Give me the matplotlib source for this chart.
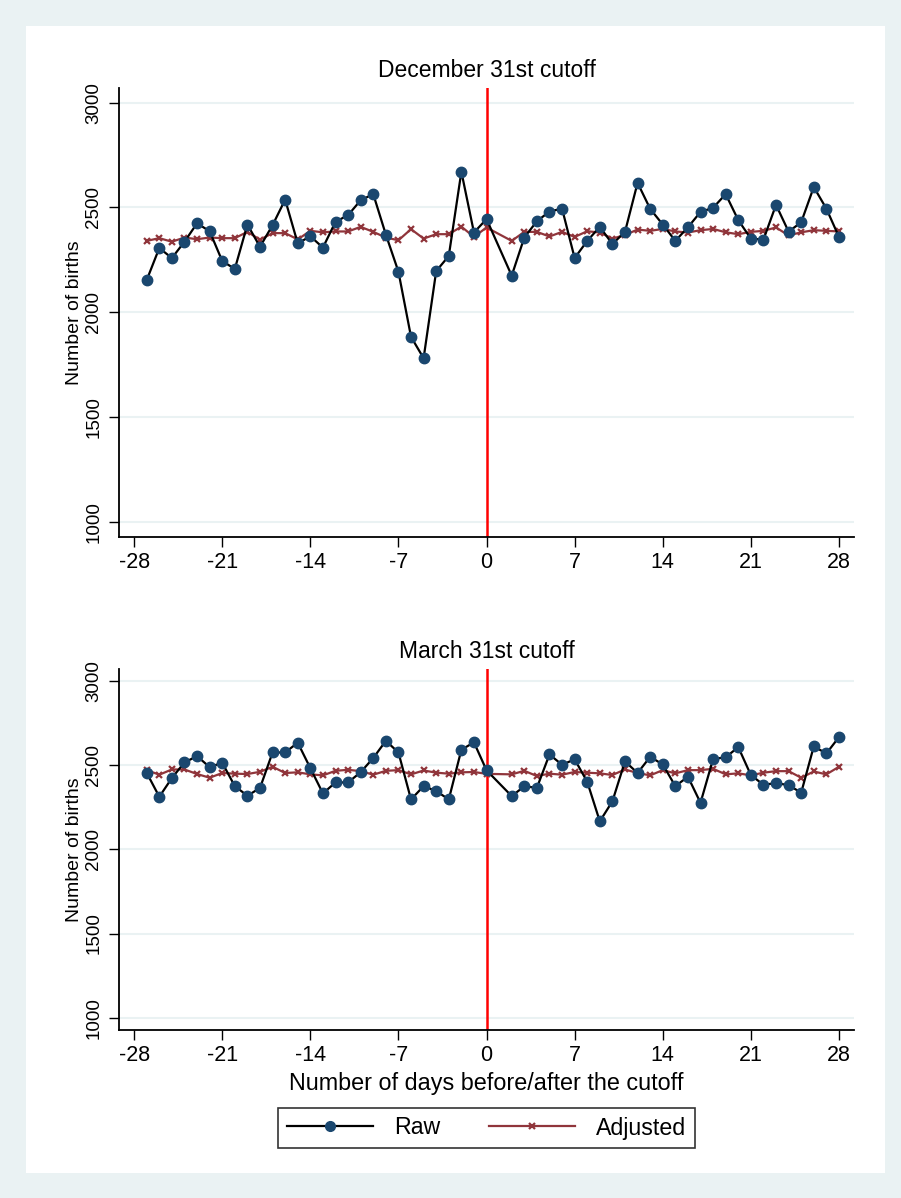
import numpy as np
import matplotlib
matplotlib.use("Agg")
import matplotlib.pyplot as plt
from matplotlib.lines import Line2D
from matplotlib.patches import Rectangle

plt.rcParams['font.family'] = ['Liberation Sans', 'DejaVu Sans']

# ------------------------------------------------------------
# data (day 1 has no observation in either panel)
# ------------------------------------------------------------
days = [-27, -26, -25, -24, -23, -22, -21, -20, -19, -18, -17, -16, -15,
        -14, -13, -12, -11, -10, -9, -8, -7, -6, -5, -4, -3, -2, -1, 0,
        2, 3, 4, 5, 6, 7, 8, 9, 10, 11, 12, 13, 14, 15,
        16, 17, 18, 19, 20, 21, 22, 23, 24, 25, 26, 27, 28]

dec_raw = [2153, 2306, 2258, 2336, 2424, 2386, 2244, 2206, 2418, 2312, 2415, 2537, 2328,
           2362, 2308, 2431, 2463, 2534, 2563, 2370, 2193, 1882, 1780, 2196, 2268, 2670, 2380, 2444,
           2174, 2356, 2434, 2480, 2494, 2258, 2340, 2407, 2325, 2383, 2617, 2493, 2418, 2340,
           2405, 2478, 2498, 2563, 2439, 2351, 2346, 2512, 2384, 2429, 2597, 2494, 2359]

dec_adj = [2340, 2353, 2336, 2356, 2348, 2356, 2353, 2353, 2383, 2346, 2377, 2377, 2347,
           2388, 2381, 2385, 2385, 2407, 2383, 2356, 2343, 2396, 2351, 2372, 2372, 2408, 2359, 2404,
           2340, 2383, 2383, 2361, 2383, 2359, 2386, 2380, 2351, 2368, 2394, 2388, 2397, 2385,
           2380, 2391, 2397, 2381, 2372, 2383, 2388, 2404, 2366, 2381, 2391, 2388, 2385]

mar_raw = [2454, 2312, 2423, 2516, 2553, 2488, 2514, 2375, 2318, 2364, 2575, 2575, 2633,
           2482, 2332, 2397, 2397, 2458, 2542, 2644, 2575, 2296, 2375, 2346, 2296, 2591, 2635, 2469,
           2316, 2374, 2365, 2563, 2502, 2534, 2401, 2166, 2285, 2522, 2453, 2549, 2504, 2375,
           2431, 2276, 2536, 2546, 2607, 2441, 2383, 2393, 2381, 2336, 2611, 2569, 2666]

mar_adj = [2470, 2443, 2474, 2474, 2447, 2425, 2453, 2449, 2447, 2460, 2490, 2453, 2457,
           2445, 2439, 2466, 2472, 2464, 2443, 2466, 2470, 2445, 2468, 2455, 2449, 2457, 2459, 2448,
           2445, 2466, 2435, 2449, 2443, 2459, 2455, 2451, 2441, 2474, 2453, 2439, 2470, 2451,
           2470, 2470, 2478, 2445, 2451, 2439, 2455, 2464, 2464, 2425, 2462, 2445, 2490]

titles = ["December 31st cutoff", "March 31st cutoff"]
xticks = [-28, -21, -14, -7, 0, 7, 14, 21, 28]
yticks = [1000, 1500, 2000, 2500, 3000]

navy = "#1a476f"
maroon = "#90353b"
grid_c = "#eaf2f3"

fig = plt.figure(figsize=(9.01, 11.98), dpi=100)
fig.patch.set_facecolor(grid_c)
fig.patches.append(Rectangle((26 / 901, 1 - 1173 / 1198), (885 - 26) / 901, (1173 - 26) / 1198,
                             transform=fig.transFigure, facecolor="white",
                             edgecolor="none", zorder=-10))

ax_top = fig.add_axes([0.1321, 0.5518, 0.8158, 0.3748])
ax_bot = fig.add_axes([0.1321, 0.1402, 0.8158, 0.3013])

panels = [(ax_top, dec_raw, dec_adj, titles[0]),
          (ax_bot, mar_raw, mar_adj, titles[1])]

for ax, raw, adj, title in panels:
    ax.set_facecolor("white")
    for y in yticks:
        ax.axhline(y, color=grid_c, linewidth=1.5, zorder=1)
    ax.axvline(0, color="red", linewidth=1.8, zorder=2)
    ax.plot(days, adj, color=maroon, linewidth=1.6, marker="x",
            markersize=4.5, markeredgewidth=1.6, zorder=3)
    ax.plot(days, raw, color="black", linewidth=1.6, marker="o",
            markersize=7.5, markerfacecolor=navy, markeredgecolor=navy,
            zorder=4)
    ax.set_xlim(-29.2, 29.2)
    ax.set_ylim(927, 3070)
    ax.set_xticks(xticks)
    ax.set_xticklabels([str(t) for t in xticks], fontsize=15.5)
    ax.set_yticks(yticks)
    ax.set_yticklabels([str(t) for t in yticks], fontsize=13.5,
                       rotation=90, va="center")
    ax.tick_params(direction="out", length=7, width=1.0, pad=4)
    ax.tick_params(axis="y", pad=5)
    ax.spines["top"].set_visible(False)
    ax.spines["right"].set_visible(False)
    ax.spines["left"].set_linewidth(1.3)
    ax.spines["bottom"].set_linewidth(1.3)
    ax.set_ylabel("Number of births", fontsize=14, labelpad=2)
    ax.set_title(title, fontsize=16.5, pad=8)

ax_bot.set_xlabel("Number of days before/after the cutoff", fontsize=16.8, labelpad=4)

handles = [
    Line2D([], [], color="black", linewidth=1.6, marker="o", markersize=7,
           markerfacecolor=navy, markeredgecolor=navy),
    Line2D([], [], color=maroon, linewidth=1.6, marker="x", markersize=4,
           markeredgewidth=1.6),
]
leg = fig.legend(handles, ["Raw", "Adjusted"], loc="center",
                 bbox_to_anchor=(486.5 / 901, 1 - 1128 / 1198), ncol=2,
                 fontsize=16.7, frameon=True, fancybox=False, handlelength=3.7,
                 columnspacing=2.1, handletextpad=0.9, borderpad=0.38)
leg.get_frame().set_edgecolor("black")
leg.get_frame().set_linewidth(1.2)

fig.savefig("out.png", dpi=100, facecolor=fig.get_facecolor())
